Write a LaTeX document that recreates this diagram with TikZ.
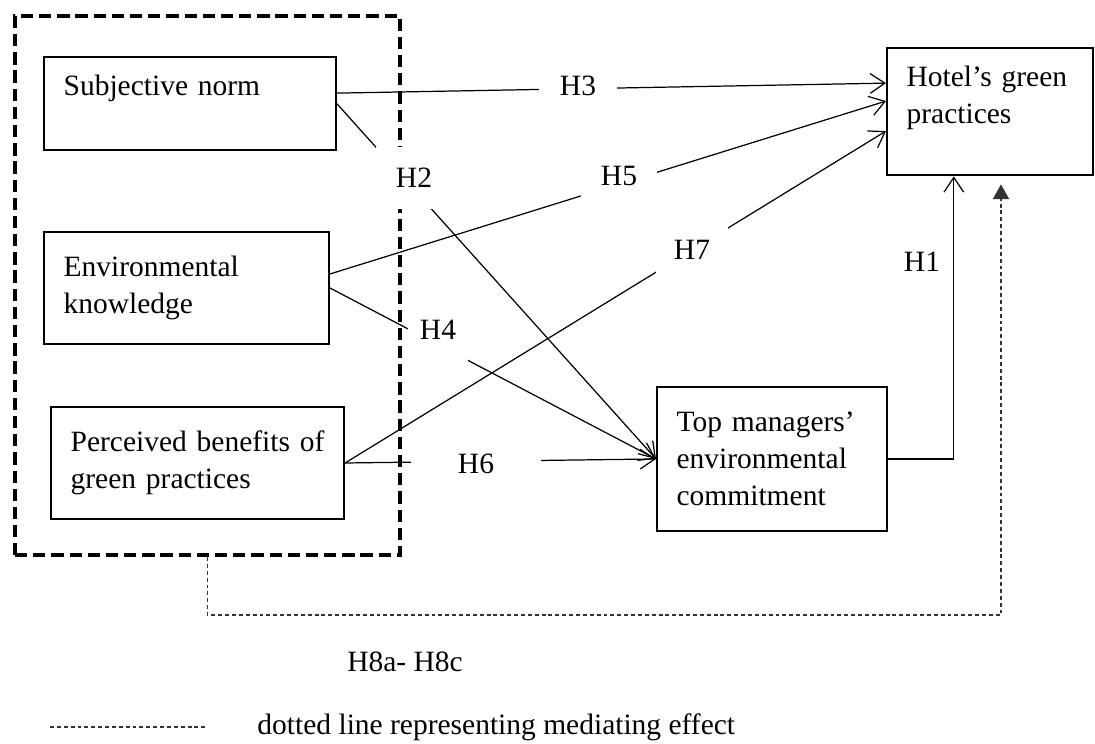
\documentclass[tikz,border=0pt]{standalone}
\usepackage{fontspec}
\setmainfont{Liberation Serif}
\usetikzlibrary{arrows.meta,positioning,calc}

\begin{document}
\begin{tikzpicture}[x=0.407pt, y=-0.407pt,
    font=\fontsize{12}{15}\selectfont,
    box/.style={draw, line width=0.8pt, anchor=north west, align=left, inner xsep=8pt},
    grpbox/.style={draw, line width=1.6pt, dash pattern=on 5pt off 2.4pt, anchor=north west, inner sep=0pt},
    arr/.style={line width=0.5pt, -{Straight Barb[length=6pt,width=8pt]}},
    medline/.style={line width=0.5pt, black!80, dash pattern=on 1.6pt off 1.2pt},
    hyp/.style={fill=white, inner sep=0pt}]
    \useasboundingbox (0,0) rectangle (1095,744);

    % antecedents inside the dashed frame
    \node[grpbox, minimum width=156.7pt, minimum height=219.4pt] (grp) at (13,14) {};
    \node[box, text width=102.8pt, inner ysep=7.3pt, text depth=15.1pt] (subj) at (43,56) {Subjective norm};
    \node[box, text width=100pt, minimum height=45.6pt] (envk) at (43,231) {Environmental\\knowledge};
    \node[box, text width=103.3pt, minimum height=45.6pt] (perb) at (50,406) {Perceived benefits of\\green practices};

    % mediator and outcome
    \node[box, text width=77.6pt, minimum height=58.6pt] (topm) at (656,386) {Top managers'\\environmental\\commitment};
    \node[box, text width=67.8pt, inner ysep=7.3pt, text depth=28.9pt] (hotel) at (886,47) {Hotel's green\\practices};

    % hypothesised paths
    \draw[arr] ([yshift=4.3pt]subj.east) -- ([yshift=11.6pt]hotel.west);
    \draw[arr] (subj.east) -- (topm.west);
    \draw[arr] ([yshift=5.7pt]envk.east) -- ([yshift=4.3pt]hotel.west);
    \draw[arr] (envk.east) -- (topm.west);
    \draw[arr] (perb.east) -- ([yshift=-7.9pt]hotel.west);
    \draw[arr] (perb.east) -- (topm.west);
    \draw[arr] (topm.east) -| ([xshift=-14.7pt]hotel.south);

    % mediating effect
    \draw[medline, -{Triangle[length=6pt,width=6.6pt]}] (grp.south) -- ++(0,58) -| ([xshift=4.5pt,yshift=-3.3pt]hotel.south);

    % labels
    \node[hyp, minimum width=31.7pt, minimum height=16pt] (h3) at (578,86) {H3};
    \node[hyp, minimum width=31pt, minimum height=25.2pt] (h2) at (414,178) {H2};
    \node[hyp, minimum width=31pt, minimum height=22.8pt] (h5) at (619,176) {H5};
    \node[hyp, minimum width=29.3pt, minimum height=22pt] (h7) at (692,250) {H7};
    \node[hyp, minimum width=24.4pt, minimum height=26pt] (h4) at (438,330) {H4};
    \node[hyp, minimum width=53pt, minimum height=12pt] (h6) at (476,464) {H6};
    \node (h1) at (922,262) {H1};
    \node (h8) at (405,662) {H8a- H8c};

    % legend
    \coordinate (legA) at (50,727);
    \coordinate (legB) at (205,727);
    \draw[medline] (legA) -- (legB);
    \node[anchor=west, inner sep=0pt] (legtxt) at (257,727) {dotted line representing mediating effect};
\end{tikzpicture}
\end{document}
